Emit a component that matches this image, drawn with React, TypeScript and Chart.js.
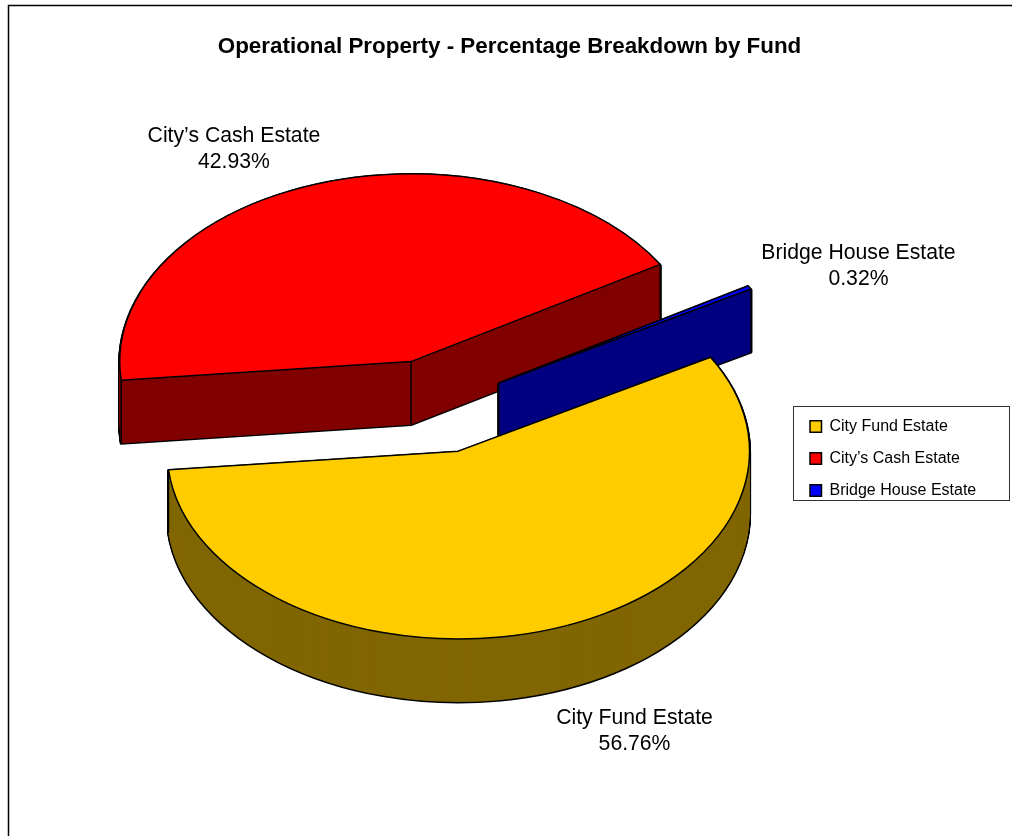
import React, { useEffect, useRef } from "react";
import { Chart, registerables } from "chart.js";

Chart.register(...registerables);

const chartTitle = "Operational Property - Percentage Breakdown by Fund";
const categories = ["City Fund Estate", "City\u2019s Cash Estate", "Bridge House Estate"];
const shares = [56.76, 42.93, 0.32];
const faceColors = ["#ffcc00", "#ff0000", "#0000ff"];
const wallColors = ["#806600", "#800000", "#000080"];
const explodeBy = [76, 76, 74];
const labelOffsets = [
  [87, 101],
  [-85, -34],
  [109, -21],
];

const FONT = "'Liberation Sans', Arial, sans-serif";
const SQUASH = 0.645;
const EXPLODE_SQUASH = 0.62;
const DEPTH = 63;
const LINE = 1.5;

const pie3d = {
  id: "pie3d",
  afterLayout(chart: any) {
    const t = chart.titleBlock;
    t.left = 0;
    t.right = 1019;
    t.width = 1019;
    t.top = 33.7;
    const l = chart.legend;
    l.left = 794;
    l.top = 402.5;
    l.right = 1009;
    l.bottom = 600;
  },
  beforeDraw(chart: any) {
    const { ctx } = chart;
    ctx.save();
    ctx.strokeStyle = "#000";
    ctx.lineWidth = 1.5;
    ctx.beginPath();
    ctx.moveTo(8.5, 836);
    ctx.lineTo(8.5, 5.5);
    ctx.lineTo(1012, 5.5);
    ctx.stroke();
    ctx.strokeStyle = "#333";
    ctx.lineWidth = 1;
    ctx.strokeRect(793.5, 406.5, 216, 94);
    ctx.restore();
  },
  beforeDatasetsDraw(chart: any) {
    const { ctx } = chart;
    const arcs: any[] = chart.getDatasetMeta(0).data;

    const centre = (arc: any, i: number) => {
      const half = (arc.startAngle + arc.endAngle) / 2;
      return {
        half,
        x: arc.x + Math.cos(half) * explodeBy[i],
        y: arc.y + Math.sin(half) * explodeBy[i] * EXPLODE_SQUASH,
      };
    };
    const slice = (arc: any, i: number, dy: number) => {
      const c = centre(arc, i);
      ctx.beginPath();
      ctx.save();
      ctx.translate(c.x, c.y + dy);
      ctx.scale(1, SQUASH);
      ctx.moveTo(0, 0);
      ctx.arc(0, 0, arc.outerRadius, arc.startAngle, arc.endAngle);
      ctx.closePath();
      ctx.restore();
    };
    const rim = (arc: any, c: any, angle: number) => [
      c.x + Math.cos(angle) * arc.outerRadius,
      c.y + Math.sin(angle) * arc.outerRadius * SQUASH,
    ];
    const wall = (c: any, p: number[]) => {
      ctx.beginPath();
      ctx.moveTo(c.x, c.y);
      ctx.lineTo(p[0], p[1]);
      ctx.lineTo(p[0], p[1] + DEPTH);
      ctx.lineTo(c.x, c.y + DEPTH);
      ctx.closePath();
    };

    ctx.save();
    ctx.lineJoin = "round";
    // back to front: City's Cash, Bridge House, City Fund
    [1, 2, 0].forEach((i) => {
      const arc = arcs[i];
      const c = centre(arc, i);
      const ends = [rim(arc, c, arc.startAngle), rim(arc, c, arc.endAngle)];
      // silhouette of the extruded side: a wide black stroke, the inner half is then filled over
      ctx.strokeStyle = "#000";
      ctx.lineWidth = LINE * 2;
      for (let dy = DEPTH; dy >= 1; dy--) {
        slice(arc, i, dy);
        ctx.stroke();
      }
      ctx.fillStyle = wallColors[i];
      for (let dy = DEPTH; dy >= 1; dy--) {
        slice(arc, i, dy);
        ctx.fill();
      }
      ends.forEach((p) => {
        wall(c, p);
        ctx.fill();
      });
      // vertical edges at the apex and the rim ends; a hair-thin slice shows only its outer end
      ctx.lineWidth = LINE;
      const thin = arc.endAngle - arc.startAngle < 0.1;
      [[c.x, c.y], ...(thin ? [ends[1]] : ends)].forEach(([x, y]) => {
        ctx.beginPath();
        ctx.moveTo(x, y);
        ctx.lineTo(x, y + DEPTH);
        ctx.stroke();
      });
      // top face
      slice(arc, i, 0);
      ctx.fillStyle = faceColors[i];
      ctx.fill();
      ctx.lineWidth = LINE;
      ctx.stroke();
    });

    // data labels
    ctx.fillStyle = "#000";
    ctx.font = `21.2px ${FONT}`;
    ctx.textAlign = "center";
    ctx.textBaseline = "middle";
    arcs.forEach((arc, i) => {
      const c = centre(arc, i);
      const [rimX, rimY] = rim(arc, c, c.half);
      const x = rimX + labelOffsets[i][0];
      const y = rimY + labelOffsets[i][1];
      ctx.fillText(categories[i], x, y - 13);
      ctx.fillText(shares[i].toFixed(2) + "%", x, y + 13);
    });
    ctx.restore();
    return false;
  },
};

export default function App() {
  const ref = useRef<HTMLCanvasElement>(null);
  useEffect(() => {
    const chart = new Chart(ref.current as HTMLCanvasElement, {
      type: "pie",
      data: {
        labels: categories,
        datasets: [
          {
            data: shares,
            backgroundColor: faceColors,
            borderColor: "#000",
            borderWidth: 1.5,
          },
        ],
      },
      options: {
        responsive: false,
        animation: false,
        events: [],
        rotation: 60,
        layout: { padding: { left: 143, right: 285, top: 87.42, bottom: 137.7 } },
        plugins: {
          title: {
            display: true,
            text: chartTitle,
            color: "#000",
            padding: 0,
            font: { family: FONT, size: 22.4, weight: "bold" },
          },
          legend: {
            display: true,
            position: "chartArea",
            align: "start",
            labels: {
              color: "#000",
              boxWidth: 11.5,
              boxHeight: 11.5,
              padding: 16,
              font: { family: FONT, size: 16 },
            },
          },
          tooltip: { enabled: false },
        },
      },
      plugins: [pie3d],
    } as any);
    return () => chart.destroy();
  }, []);
  return (
    <canvas
      ref={ref}
      width={1012}
      height={836}
      style={{ position: "absolute", left: 0, top: 0, display: "block" }}
    />
  );
}
